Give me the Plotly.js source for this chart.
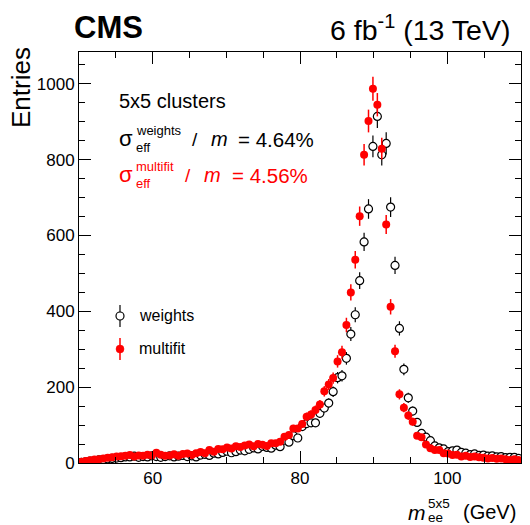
<!DOCTYPE html>
<html>
<head>
<meta charset="utf-8">
<script src="https://cdn.plot.ly/plotly-3.0.1.min.js"></script>
<style>html,body{margin:0;padding:0;background:#fff;}#chart{width:530px;height:525px;}</style>
</head>
<body>
<div id="chart"></div>
<script>
// Bin centres of the m_ee^5x5 histogram (GeV)
const massBins = [
 50.3,50.9,51.5,52.1,52.7,53.3,53.9,54.5,55.1,55.7,
 56.3,56.9,57.5,58.1,58.7,59.3,59.9,60.5,61.1,61.7,
 62.3,62.9,63.5,64.1,64.7,65.3,65.9,66.5,67.1,67.7,
 68.3,68.9,69.5,70.1,70.7,71.3,71.9,72.5,73.1,73.7,
 74.3,74.9,75.5,76.1,76.7,77.3,77.9,78.5,79.1,79.7,
 80.3,80.9,81.5,82.1,82.7,83.3,83.9,84.5,85.1,85.7,
 86.3,86.9,87.5,88.1,88.7,89.3,89.9,90.5,91.1,91.7,
 92.3,92.9,93.5,94.1,94.7,95.3,95.9,96.5,97.1,97.7,
 98.3,98.9,99.5,100.1,100.7,101.3,101.9,102.5,103.1,103.7,
 104.3,104.9,105.5,106.1,106.7,107.3,107.9,108.5,109.1,109.7
];
// Entries, weights reconstruction (open black circles)
const weightsEntries = [
 2,3,5,6,8,9,11,12,13,14,
 16,16,18,15,17,16,19,17,15,17,
 19,16,18,20,17,19,16,21,23,20,
 26,24,28,31,27,30,34,32,36,40,
 37,44,41,39,47,43,60,55,72,66,
 96,104,106,106,131,145,158,188,225,230,
 276,340,391,481,583,670,835,914,813,843,
 675,521,355,247,172,137,107,78,68,59,
 45,40,37,30,32,34,28,26,22,24,
 20,21,18,19,16,17,14,15,15,12
];
// Entries, multifit reconstruction (filled red circles)
const multifitEntries = [
 3,5,7,9,10,12,14,15,17,18,
 19,21,17,20,19,22,20,27,22,19,
 20,23,19,24,25,21,26,29,26,34,
 30,37,36,41,38,44,42,46,49,44,
 50,48,45,52,52,56,69,74,91,91,
 103,122,128,140,154,189,207,224,268,292,
 364,450,536,651,813,902,987,945,829,629,
 412,295,181,146,125,109,72,68,49,39,
 34,34,26,25,21,22,17,19,16,17,
 15,14,12,13,11,12,10,8,10,8
];
const xTickVals = [60, 80, 100];
const yTickVals = [0, 200, 400, 600, 800, 1000];
const seriesNames = ['weights', 'multifit'];
const resolutions = ['4.64%', '4.56%'];

const FONT = 'Liberation Sans, Arial, Helvetica, sans-serif';
const L = 79, R = 521, T = 52, B = 463, W = 530, H = 525;
const px = x => (x - L) / (R - L);
const py = y => (B - y) / (B - T);

const ann = [];
function txt(text, x, baseline, size, opts) {
  opts = opts || {};
  ann.push(Object.assign({
    text: text, xref: 'paper', yref: 'paper', showarrow: false,
    x: px(x), y: py(baseline - 0.33 * size),
    xanchor: opts.anchor || 'left', yanchor: 'middle', borderpad: 0,
    font: {family: FONT, size: size, color: opts.color || 'black'}
  }, opts.extra || {}));
}
txt('<b>CMS</b>', 73, 38, 31);
txt('6 fb<sup>-1</sup> (13 TeV)', 511, 37.5, 28.5, {anchor: 'right'});
ann.push({text: 'Entries', xref: 'paper', yref: 'paper', showarrow: false,
  x: px(21), y: py(88), xanchor: 'center', yanchor: 'middle', textangle: -90,
  font: {family: FONT, size: 26, color: 'black'}});
txt('5x5 clusters', 118, 108, 20);
// resolution lines
const lineBase = [146, 182];
const lineCol = ['black', 'red'];
const slashX = [191, 184], mX = [210, 203], eqX = [237, 231];
for (let k = 0; k < 2; k++) {
  const c = lineCol[k], b = lineBase[k];
  txt('σ', 118, b, 22, {color: c});
  txt(seriesNames[k], 135, b - 11, 13, {color: c});
  txt('eff', 135, b + 6, 13, {color: c});
  txt('/', slashX[k], b, 19, {color: c});
  txt('<i>m</i>', mX[k], b, 20, {color: c});
  txt('= ' + resolutions[k], eqX[k], b, 20.5, {color: c});
}
// legend labels
txt(seriesNames[0], 138, 321, 16);
txt(seriesNames[1], 138, 354, 16);
// x title
txt('<i>m</i>', 407, 519, 21);
txt('5x5', 427, 508, 13.5);
txt('ee', 427, 522, 13.5);
txt('(GeV)', 462, 519, 20);

const legY = [316, 349];
const shapes = [];
for (let k = 0; k < 2; k++) {
  const col = k === 0 ? 'black' : 'red';
  shapes.push({type: 'line', xref: 'paper', yref: 'paper', layer: 'above',
    x0: px(120), x1: px(120), y0: py(legY[k] - 11), y1: py(legY[k] + 11),
    line: {color: col, width: k === 0 ? 1.2 : 1.5}});
  shapes.push({type: 'circle', xref: 'paper', yref: 'paper', layer: 'above',
    xsizemode: 'pixel', ysizemode: 'pixel', xanchor: px(120), yanchor: py(legY[k]),
    x0: -4, x1: 4, y0: -4, y1: 4,
    fillcolor: k === 0 ? 'white' : 'red', line: {color: col, width: k === 0 ? 1.2 : 0.5}});
}

const traces = [
  {x: massBins, y: weightsEntries, name: seriesNames[0], type: 'scatter', mode: 'markers',
   marker: {symbol: 'circle', size: 8, color: 'white', line: {color: 'black', width: 1.2}},
   error_y: {type: 'data', array: weightsEntries.map(Math.sqrt), width: 0, thickness: 1.2, color: 'black'},
   showlegend: false},
  {x: massBins, y: multifitEntries, name: seriesNames[1], type: 'scatter', mode: 'markers',
   marker: {symbol: 'circle', size: 8, color: 'red', line: {color: 'red', width: 0}},
   error_y: {type: 'data', array: multifitEntries.map(Math.sqrt), width: 0, thickness: 1.5, color: 'red'},
   showlegend: false}
];

const axisCommon = {
  ticks: 'inside', ticklen: 12, tickwidth: 1, tickcolor: 'black',
  showline: true, linecolor: 'black', linewidth: 1, mirror: 'allticks',
  showgrid: false, zeroline: false, fixedrange: true,
  tickfont: {family: FONT, size: 17, color: 'black'}
};
const layout = {
  width: W, height: H, paper_bgcolor: 'white', plot_bgcolor: 'white',
  margin: {l: L, r: W - R, t: T, b: H - B},
  showlegend: false,
  xaxis: Object.assign({}, axisCommon, {range: [50, 110], tickvals: xTickVals, ticktext: xTickVals.map(String),
    minor: {dtick: 5, tick0: 50, ticklen: 6, ticks: 'inside', tickcolor: 'black', showgrid: false}}),
  yaxis: Object.assign({}, axisCommon, {range: [0, 1084], tickvals: yTickVals, ticktext: yTickVals.map(String),
    minor: {dtick: 50, tick0: 0, ticklen: 6, ticks: 'inside', tickcolor: 'black', showgrid: false}}),
  annotations: ann,
  shapes: shapes
};
Plotly.newPlot('chart', traces, layout, {staticPlot: true, displayModeBar: false});
</script>
</body>
</html>
